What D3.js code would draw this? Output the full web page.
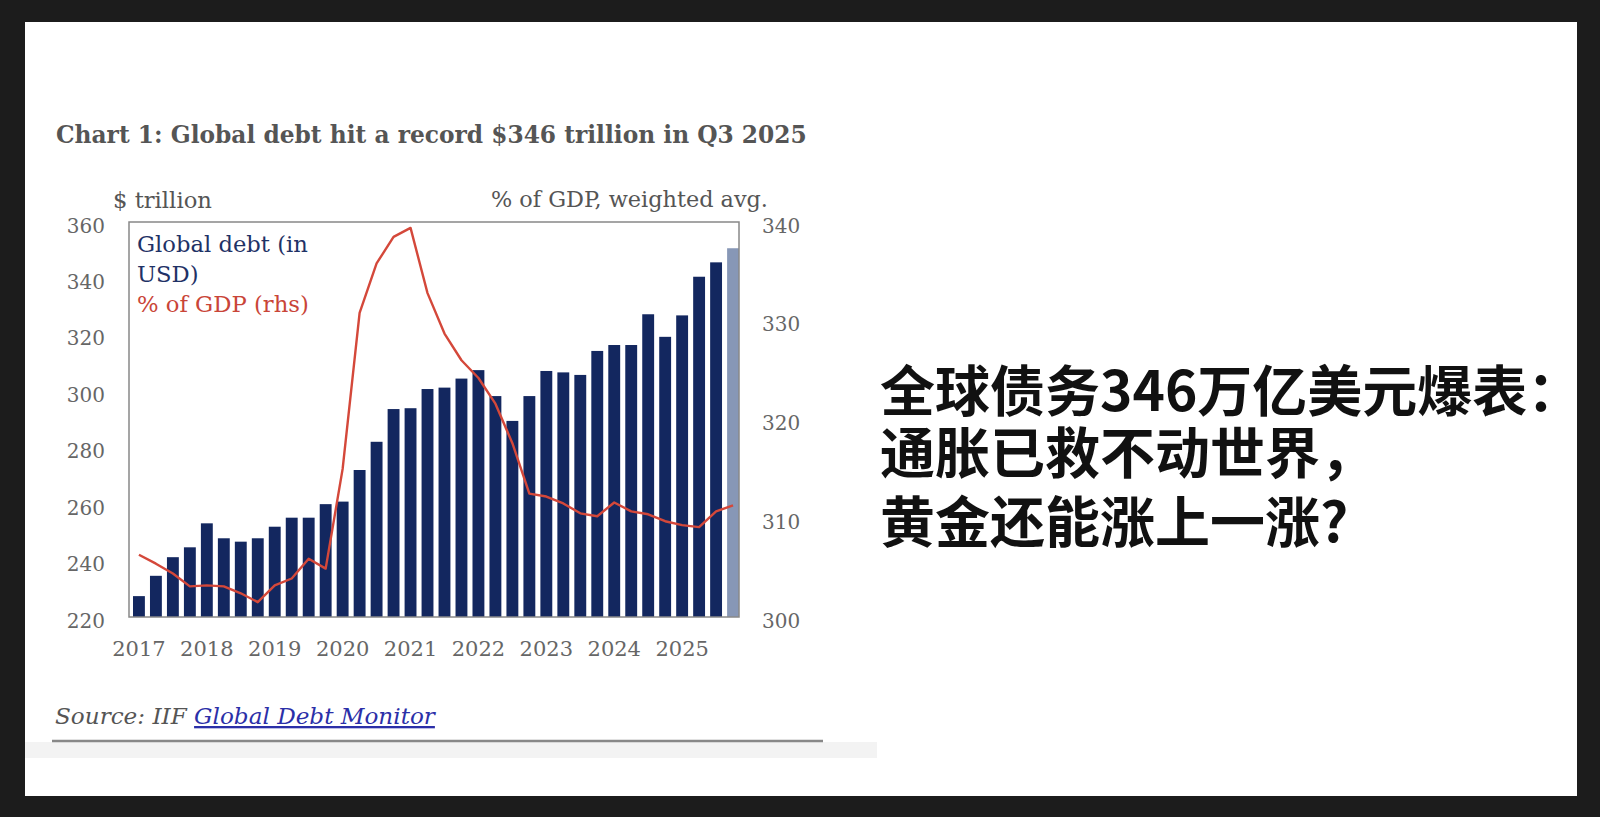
<!DOCTYPE html>
<html>
<head>
<meta charset="utf-8">
<script src="https://cdn.jsdelivr.net/npm/d3@7"></script>
<style>
  body { margin: 0; background: #1c1c1c; }
  svg { display: block; }
</style>
</head>
<body>
<svg id="chart" width="1600" height="817"></svg>
<script>
// quarters 2017Q1 .. 2025Q4 (last one drawn lighter)
const quarters = [];
for (let y = 2017; y <= 2025; y++) for (let q = 1; q <= 4; q++) quarters.push(y + "Q" + q);

// global debt, $ trillion
const debt = [227.4, 234.6, 241.2, 244.7, 253.2, 247.9, 246.7, 247.9,
              252.0, 255.2, 255.2, 260.0, 260.9, 272.1, 282.1, 293.7,
              294.0, 300.8, 301.3, 304.5, 307.5, 298.3, 289.5, 298.3,
              307.2, 306.7, 305.8, 314.3, 316.4, 316.4, 327.3, 319.3,
              326.9, 340.6, 345.7, 350.7];

// debt as % of GDP, weighted avg. (rhs)
const gdpShare = [306.3, 305.4, 304.4, 303.1, 303.2, 303.1, 302.4, 301.5,
                  303.2, 303.9, 305.9, 304.9, 315.0, 330.8, 335.8, 338.5,
                  339.4, 332.8, 328.7, 326.0, 324.2, 321.6, 317.6, 312.5,
                  312.2, 311.5, 310.5, 310.2, 311.6, 310.7, 310.4, 309.7,
                  309.3, 309.1, 310.7, 311.3];

const leftTicks = [220, 240, 260, 280, 300, 320, 340, 360];
const rightTicks = [300, 310, 320, 330, 340];
const yearLabels = ["2017", "2018", "2019", "2020", "2021", "2022", "2023", "2024", "2025"];

const headline = ["全球债务346万亿美元爆表：", "通胀已救不动世界，", "黄金还能涨上一涨?"];

const serif = "Georgia, 'DejaVu Serif', serif";
const svg = d3.select("#chart");

// white card
svg.append("rect").attr("x", 25).attr("y", 22).attr("width", 1552).attr("height", 774).attr("fill", "#fff");
svg.append("rect").attr("x", 25).attr("y", 742).attr("width", 852).attr("height", 16).attr("fill", "#f3f3f3");

// shrink/grow a text node so it spans the given width
const fit = (sel, width) => {
    const w = sel.node().getComputedTextLength();
    sel.attr("font-size", parseFloat(sel.attr("font-size")) * width / w);
    return sel;
};

const box = { left: 129, right: 739, top: 222, bottom: 617 };

const x = d3.scaleBand()
    .domain(quarters)
    .range([133, 739])
    .paddingInner(0.3)
    .paddingOuter(0);

const yLeft = d3.scaleLinear().domain([220, 360]).range([box.bottom, box.top]);
const yRight = d3.scaleLinear().domain([300, 340]).range([box.bottom, box.top]);

// title
fit(svg.append("text")
    .attr("x", 56).attr("y", 143)
    .attr("font-family", serif).attr("font-weight", "bold")
    .attr("font-size", 24).attr("fill", "#555")
    .text("Chart 1: Global debt hit a record $346 trillion in Q3 2025"), 751);

// axis titles
fit(svg.append("text")
    .attr("x", 113).attr("y", 208)
    .attr("font-family", serif).attr("font-size", 21).attr("fill", "#555")
    .text("$ trillion"), 99);
fit(svg.append("text")
    .attr("x", 491).attr("y", 207)
    .attr("font-family", serif).attr("font-size", 21).attr("fill", "#555")
    .text("% of GDP, weighted avg."), 277);

// bars
svg.append("g")
    .selectAll("rect")
    .data(debt)
    .enter()
    .append("rect")
    .attr("x", (d, i) => x(quarters[i]))
    .attr("width", x.bandwidth())
    .attr("y", (d) => yLeft(d))
    .attr("height", (d) => yLeft(220) - yLeft(d))
    .attr("fill", (d, i) => i === debt.length - 1 ? "#8797b6" : "#13275f");

// % of GDP line
const line = d3.line()
    .x((d, i) => x(quarters[i]) + x.bandwidth() / 2)
    .y((d) => yRight(d));

svg.append("path")
    .datum(gdpShare)
    .attr("d", line)
    .attr("fill", "none")
    .attr("stroke", "#d4483a")
    .attr("stroke-width", 2.4)
    .attr("stroke-linejoin", "round");

// frame
svg.append("rect")
    .attr("x", box.left).attr("y", box.top)
    .attr("width", box.right - box.left).attr("height", box.bottom - box.top)
    .attr("fill", "none").attr("stroke", "#888").attr("stroke-width", 1.5);

// axes
const leftAxis = svg.append("g")
    .attr("transform", `translate(${box.left},0)`)
    .call(d3.axisLeft(yLeft).tickValues(leftTicks).tickSize(0).tickPadding(24));
const rightAxis = svg.append("g")
    .attr("transform", `translate(${box.right},0)`)
    .call(d3.axisRight(yRight).tickValues(rightTicks).tickSize(0).tickPadding(23));
const xAxis = svg.append("g")
    .attr("transform", `translate(0,${box.bottom})`)
    .call(d3.axisBottom(x)
        .tickValues(yearLabels.map((y) => y + "Q1"))
        .tickFormat((d) => d.slice(0, 4))
        .tickSize(0).tickPadding(24));

[leftAxis, rightAxis, xAxis].forEach((g) => {
    g.select(".domain").remove();
    g.selectAll("text")
        .attr("font-family", serif)
        .attr("font-size", 20)
        .attr("fill", "#666");
});
leftAxis.selectAll("text").attr("dy", "0.5em");
rightAxis.selectAll("text").attr("dy", "0.5em");
xAxis.selectAll("text").attr("dy", "0.71em").attr("font-size", 21);

// legend
const lg1 = fit(svg.append("text")
    .attr("x", 137).attr("y", 252)
    .attr("font-family", serif).attr("font-size", 21).attr("fill", "#1f3266")
    .text("Global debt (in"), 171);
svg.append("text")
    .attr("x", 137).attr("y", 282)
    .attr("font-family", serif).attr("font-size", lg1.attr("font-size")).attr("fill", "#1f3266")
    .text("USD)");
fit(svg.append("text")
    .attr("x", 137).attr("y", 312)
    .attr("font-family", serif).attr("font-size", 21).attr("fill", "#c94538")
    .text("% of GDP (rhs)"), 172);

// source
const src = svg.append("text")
    .attr("x", 55).attr("y", 724)
    .attr("font-family", serif).attr("font-style", "italic")
    .attr("font-size", 21).attr("fill", "#555");
src.append("tspan").text("Source: IIF ");
src.append("tspan").attr("fill", "#2b2fa8").attr("text-decoration", "underline").text("Global Debt Monitor");
fit(src, 380);

svg.append("line")
    .attr("x1", 52).attr("x2", 823).attr("y1", 741).attr("y2", 741)
    .attr("stroke", "#888").attr("stroke-width", 2.5);

// headline on the right
svg.append("g")
    .selectAll("text")
    .data(headline)
    .enter()
    .append("text")
    .attr("x", 880)
    .attr("y", (d, i) => [411, 473, 542][i])
    .attr("font-family", "'Noto Sans CJK SC', sans-serif")
    .attr("font-weight", "bold")
    .attr("font-size", 55)
    .attr("fill", "#111")
    .text((d) => d);
</script>
</body>
</html>
